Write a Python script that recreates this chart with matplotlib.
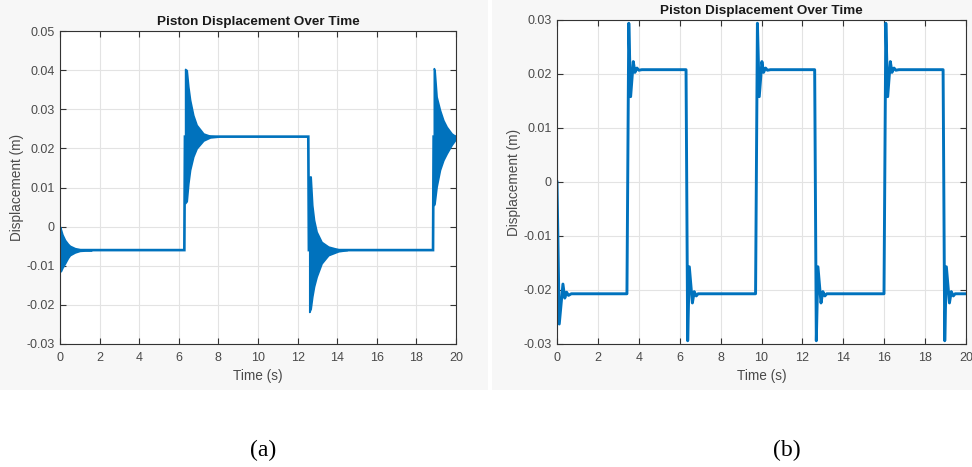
import matplotlib
matplotlib.use("Agg")
import matplotlib.pyplot as plt
from matplotlib.patches import Rectangle

BLUE = "#0072BD"
TXT = "#4a4a4a"

# ---- panel (a): settled displacement path and decaying oscillation envelopes
a_path_t = [0.0, 6.28, 6.31, 12.54, 12.57, 18.84, 18.87, 20.0]
a_path_y = [-0.006, -0.006, 0.023, 0.023, -0.006, -0.006, 0.023, 0.023]

a_burst1_t = [0.0, 0.05, 0.12, 0.25, 0.40, 0.50, 0.75, 1.00, 1.30, 1.60]
a_burst1_hi = [0.0, -0.0008, -0.0020, -0.0034, -0.0044, -0.0049, -0.0055, -0.0058, -0.0059, -0.0060]
a_burst1_lo = [-0.0115, -0.0113, -0.0105, -0.0094, -0.0080, -0.0073, -0.0066, -0.0062, -0.0061, -0.0060]

a_burst2_t = [6.32, 6.40, 6.48, 6.57, 6.73, 6.90, 7.24, 7.58, 8.00]
a_burst2_hi = [0.0403, 0.0400, 0.0358, 0.0324, 0.0285, 0.0260, 0.0238, 0.0232, 0.0230]
a_burst2_lo = [0.0060, 0.0065, 0.0110, 0.0145, 0.0179, 0.0200, 0.0220, 0.0228, 0.0230]

a_burst3_t = [12.59, 12.66, 12.74, 12.83, 12.96, 13.21, 13.55, 14.06, 14.50]
a_burst3_hi = [0.0128, 0.0128, 0.0055, 0.0017, -0.0013, -0.0039, -0.0051, -0.0058, -0.0060]
a_burst3_lo = [-0.0218, -0.0210, -0.0179, -0.0153, -0.0128, -0.0094, -0.0073, -0.0063, -0.0060]

a_burst4_t = [18.88, 18.92, 19.02, 19.19, 19.36, 19.53, 19.78, 19.95, 20.0]
a_burst4_hi = [0.0405, 0.0400, 0.0332, 0.0298, 0.0272, 0.0255, 0.0238, 0.0232, 0.0231]
a_burst4_lo = [0.0055, 0.0060, 0.0102, 0.0145, 0.0170, 0.0187, 0.0209, 0.0221, 0.0225]

a_yticks = [-0.03, -0.02, -0.01, 0.0, 0.01, 0.02, 0.03, 0.04, 0.05]
a_yticklabels = ["-0.03", "-0.02", "-0.01", "0", "0.01", "0.02", "0.03", "0.04", "0.05"]

# ---- panel (b): square-wave response with short ringing after each edge
b_t = [0.00, 0.11, 0.29, 0.38, 0.47, 0.56, 0.70,
       3.42, 3.51, 3.60, 3.73, 3.81, 3.91, 4.00, 4.15,
       6.31, 6.39, 6.47, 6.62, 6.71, 6.81, 6.90, 7.05,
       9.71, 9.80, 9.89, 10.02, 10.10, 10.20, 10.29, 10.44,
       12.60, 12.68, 12.76, 12.91, 13.00, 13.10, 13.19, 13.34,
       15.99, 16.08, 16.17, 16.30, 16.38, 16.48, 16.57, 16.72,
       18.88, 18.96, 19.04, 19.19, 19.28, 19.38, 19.47, 19.62,
       20.00]
b_y = [0.0, -0.0263, -0.0189, -0.0215, -0.0204, -0.0210, -0.0207,
       -0.0207, 0.0294, 0.0158, 0.0223, 0.0203, 0.0211, 0.0207, 0.0208,
       0.0208, -0.0294, -0.0157, -0.0224, -0.0203, -0.0211, -0.0207, -0.0207,
       -0.0207, 0.0294, 0.0158, 0.0223, 0.0203, 0.0211, 0.0207, 0.0208,
       0.0208, -0.0294, -0.0157, -0.0224, -0.0203, -0.0211, -0.0207, -0.0207,
       -0.0207, 0.0294, 0.0158, 0.0223, 0.0203, 0.0211, 0.0207, 0.0208,
       0.0208, -0.0294, -0.0157, -0.0224, -0.0203, -0.0211, -0.0207, -0.0207,
       -0.0207]

b_yticks = [-0.03, -0.02, -0.01, 0.0, 0.01, 0.02, 0.03]
b_yticklabels = ["-0.03", "-0.02", "-0.01", "0", "0.01", "0.02", "0.03"]

xticks = list(range(0, 21, 2))
title = "Piston Displacement Over Time"
xlabel = "Time (s)"
ylabel = "Displacement (m)"
panel_tags = ["(a)", "(b)"]

W, H = 972, 467
fig = plt.figure(figsize=(W / 100, H / 100), dpi=100)
fig.patch.set_facecolor("white")

# light backdrop behind each exported panel
for x0, x1 in [(0, 488), (492, 972)]:
    fig.add_artist(Rectangle((x0 / W, 1 - 390 / H), (x1 - x0) / W, 390 / H,
                             transform=fig.transFigure, facecolor="#f7f7f7",
                             edgecolor="none", zorder=-10))


def px_axes(left, top, right, bottom):
    ax = fig.add_axes([left / W, 1 - bottom / H, (right - left) / W, (bottom - top) / H])
    ax.set_zorder(1)
    return ax


def style(ax, yticks, ylabels, title_pad, left, top, bottom):
    w_px = ax.get_position().width * W
    h_px = bottom - top
    ax.set_xlim(0, 20)
    ax.set_ylim(yticks[0], yticks[-1])
    ax.set_xticks(xticks)
    ax.set_xticklabels([str(v) for v in xticks], fontsize=9, color=TXT, family="Liberation Sans")
    ax.set_yticks(yticks)
    ax.set_yticklabels(ylabels, fontsize=9, color=TXT, family="Liberation Sans")
    ax.tick_params(direction="in", length=4, width=0.8, color="#333333",
                   top=True, right=True, pad=4)
    ax.tick_params(axis="x", pad=6)
    ax.grid(True, color="#e3e3e3", linewidth=0.8)
    ax.set_axisbelow(True)
    for s in ax.spines.values():
        s.set_color("#333333")
        s.set_linewidth(0.8)
    ax.set_title(title, fontsize=9.7, fontweight="bold", color="#1a1a1a",
                 family="Liberation Sans", pad=title_pad)
    ax.set_xlabel(xlabel, fontsize=9.8, color=TXT, family="Liberation Sans")
    ax.set_ylabel(ylabel, fontsize=9.8, color=TXT, family="Liberation Sans")
    ax.xaxis.set_label_coords(0.5, -(369 - bottom) / h_px)
    ax.yaxis.set_label_coords(-36 / w_px, 0.5)


# panel (a)
ax1 = px_axes(60, 31, 456, 344)
ax1.plot(a_path_t, a_path_y, color=BLUE, lw=1.9, solid_joinstyle="miter")
for bt, hi, lo in [(a_burst1_t, a_burst1_hi, a_burst1_lo),
                   (a_burst2_t, a_burst2_hi, a_burst2_lo),
                   (a_burst3_t, a_burst3_hi, a_burst3_lo),
                   (a_burst4_t, a_burst4_hi, a_burst4_lo)]:
    ax1.fill_between(bt, lo, hi, color=BLUE, linewidth=1.2, edgecolor=BLUE)
style(ax1, a_yticks, a_yticklabels, 4.5, 60, 31, 344)

# panel (b)
ax2 = px_axes(557, 20, 966, 344)
ax2.plot(b_t, b_y, color=BLUE, lw=2.1)
style(ax2, b_yticks, b_yticklabels, 4, 557, 20, 344)

fig.text(263 / W, 1 - 450 / H, panel_tags[0], ha="center", va="center",
         fontsize=17, family="Liberation Serif")
fig.text(787 / W, 1 - 450 / H, panel_tags[1], ha="center", va="center",
         fontsize=17, family="Liberation Serif")

fig.savefig("out.png", dpi=100)
